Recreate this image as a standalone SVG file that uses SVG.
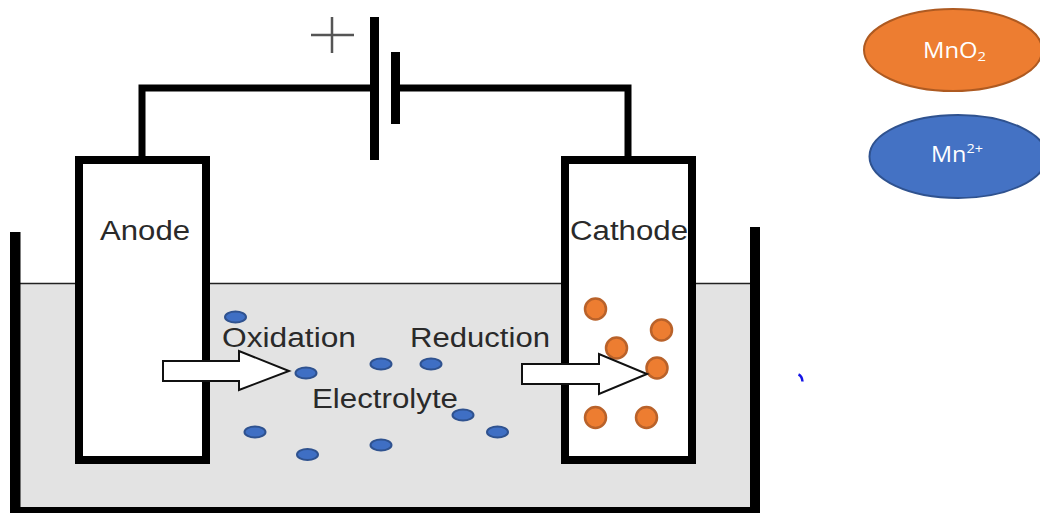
<svg xmlns="http://www.w3.org/2000/svg" width="1040" height="513" viewBox="0 0 1040 513">
<style>
.bar{fill:#000}
.electrode{fill:#fff;stroke:#000;stroke-width:8}
.wire{fill:none;stroke:#000;stroke-width:7}
.ion{fill:#3f6fc4;stroke:#2f528f;stroke-width:2}
.solid{fill:#ed7d31;stroke:#b9622a;stroke-width:2.500}
.arrow{fill:#fff;stroke:#111;stroke-width:2}
.lbl{font-family:"Liberation Sans",Arial,sans-serif;font-size:27px;fill:#2a2a2a}
.leg{font-family:"Open Sans","Noto Sans",sans-serif;font-size:21px;fill:#fff}
.small{font-size:13px}
</style>
<g id="electrolyte">
<rect x="20" y="283" width="730" height="225" fill="#e3e3e3"/>
<line x1="20" y1="283.500" x2="750" y2="283.500" stroke="#222" stroke-width="1.500"/>
</g>
<g id="tank">
<path class="bar" d="M10 232H20.500V507H750V227H760V513H10Z"/>
</g>
<g id="connectors">
<path class="wire" d="M142 157V88H372"/>
<path class="wire" d="M398 88H628V157"/>
</g>
<g id="battery">
<rect class="bar" x="370" y="17" width="9" height="143"/>
<rect class="bar" x="391" y="52" width="9" height="72"/>
<path d="M311 35H354M332 17V53" fill="none" stroke="#555" stroke-width="2.500"/>
</g>
<g id="anode">
<rect class="electrode" x="79" y="160" width="127" height="300"/>
<text class="lbl" x="100" y="240" textLength="90" lengthAdjust="spacingAndGlyphs">Anode</text>
</g>
<g id="cathode">
<rect class="electrode" x="565" y="160" width="127" height="300"/>
<text class="lbl" x="570" y="240" textLength="118" lengthAdjust="spacingAndGlyphs">Cathode</text>
</g>
<g id="mn-ions">
<ellipse class="ion" cx="235.500" cy="317" rx="10.500" ry="5.500"/>
<ellipse class="ion" cx="306" cy="373" rx="10.500" ry="5.500"/>
<ellipse class="ion" cx="381" cy="364" rx="10.500" ry="5.500"/>
<ellipse class="ion" cx="431" cy="364" rx="10.500" ry="5.500"/>
<ellipse class="ion" cx="463" cy="415" rx="10.500" ry="5.500"/>
<ellipse class="ion" cx="497.500" cy="432" rx="10.500" ry="5.500"/>
<ellipse class="ion" cx="255" cy="432" rx="10.500" ry="5.500"/>
<ellipse class="ion" cx="307.500" cy="454.500" rx="10.500" ry="5.500"/>
<ellipse class="ion" cx="381" cy="445" rx="10.500" ry="5.500"/>
</g>
<g id="mno2-particles">
<circle class="solid" cx="595.500" cy="309" r="10.500"/>
<circle class="solid" cx="661.500" cy="330" r="10.500"/>
<circle class="solid" cx="616.500" cy="348" r="10.500"/>
<circle class="solid" cx="657" cy="368" r="10.500"/>
<circle class="solid" cx="595.500" cy="417.500" r="10.500"/>
<circle class="solid" cx="646.500" cy="417.500" r="10.500"/>
</g>
<g id="oxidation-arrow">
<path class="arrow" d="M163 361H239V351L289 371L239 390V381H163Z"/>
</g>
<g id="reduction-arrow">
<path class="arrow" d="M522 364H599V354L647 374L599 394V384H522Z"/>
</g>
<g id="labels">
<text class="lbl" x="222" y="347" textLength="134" lengthAdjust="spacingAndGlyphs">Oxidation</text>
<text class="lbl" x="410" y="347" textLength="140" lengthAdjust="spacingAndGlyphs">Reduction</text>
<text class="lbl" x="312" y="408" textLength="146" lengthAdjust="spacingAndGlyphs">Electrolyte</text>
</g>
<g id="legend-mno2">
<ellipse cx="953" cy="50" rx="89" ry="41" fill="#ed7d31" stroke="#ae5a21" stroke-width="2"/>
<text class="leg" x="923" y="58" textLength="63" lengthAdjust="spacingAndGlyphs">MnO<tspan class="small" dy="3">2</tspan></text>
</g>
<g id="legend-mn2">
<ellipse cx="958" cy="156.500" rx="88.500" ry="41.500" fill="#4472c4" stroke="#2f528f" stroke-width="2"/>
<text class="leg" x="931" y="162" textLength="52" lengthAdjust="spacingAndGlyphs">Mn<tspan class="small" dy="-9">2+</tspan></text>
</g>
<path id="stray-mark" d="M798.500 374.500Q802 376 802.500 381.500" fill="none" stroke="#1414e6" stroke-width="2.500"/>
</svg>
